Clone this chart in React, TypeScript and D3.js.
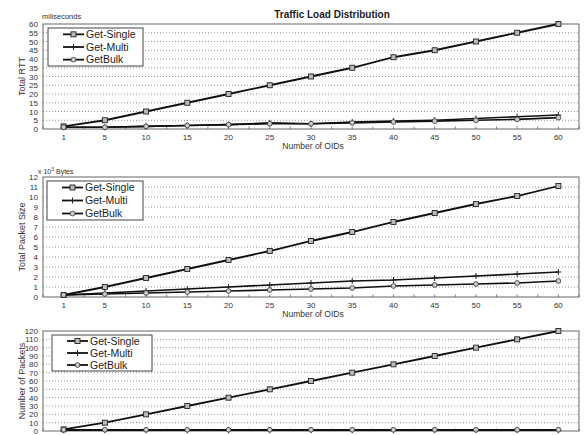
import React from 'react';
import * as d3 from 'd3';

const oids = [1, 5, 10, 15, 20, 25, 30, 35, 40, 45, 50, 55, 60];
const seriesNames = ['Get-Single', 'Get-Multi', 'GetBulk'];

// Total RTT (miliseconds)
const rttSingle = [1.5, 5, 10, 15, 20, 25, 30, 35, 41, 45, 50, 55, 60];
const rttMulti = [1, 1, 1.5, 2, 2.5, 3.5, 3, 4, 4.5, 5, 6, 7, 8];
const rttBulk = [1, 1, 1.5, 2, 2.5, 3, 3, 3.5, 4, 4.5, 5, 5.5, 6.5];

// Total packet size (x 10^3 bytes)
const sizeSingle = [0.2, 1, 1.9, 2.8, 3.7, 4.6, 5.6, 6.5, 7.5, 8.4, 9.3, 10.1, 11.1];
const sizeMulti = [0.2, 0.4, 0.6, 0.8, 1.0, 1.2, 1.4, 1.6, 1.7, 1.9, 2.1, 2.3, 2.5];
const sizeBulk = [0.2, 0.3, 0.4, 0.5, 0.6, 0.7, 0.8, 0.9, 1.1, 1.2, 1.3, 1.4, 1.6];

// Number of packets
const pktSingle = [2, 10, 20, 30, 40, 50, 60, 70, 80, 90, 100, 110, 120];
const pktMulti = [1, 1, 1, 1, 1, 1, 1, 1, 1, 1, 1, 1, 1];
const pktBulk = [1.5, 1.5, 1.5, 1.5, 1.5, 1.5, 1.5, 1.5, 1.5, 1.5, 1.5, 1.5, 1.5];

const width = 585;
const height = 435;
const left = 43;
const right = 579;
const font = 'Liberation Sans, Arial, sans-serif';

const x = d3.scalePoint<number>().domain(oids).range([left, right]).padding(0.5);

const Marker = ({ kind, cx, cy }: { kind: number; cx: number; cy: number }) => {
  if (kind === 0)
    return <rect x={cx - 2.5} y={cy - 2.5} width={5} height={5} fill="#bbb" stroke="#222" strokeWidth={0.9} />;
  if (kind === 1)
    return (
      <path
        d={`M${cx - 3},${cy}H${cx + 3}M${cx},${cy - 3}V${cy + 3}`}
        stroke="#222"
        strokeWidth={1}
      />
    );
  return <circle cx={cx} cy={cy} r={2.4} fill="#ccc" stroke="#333" strokeWidth={0.8} />;
};

type PanelProps = {
  top: number;
  bottom: number;
  yMax: number;
  yStep: number;
  series: number[][];
  yLabel: string;
  unit?: React.ReactNode;
  legend: { x: number; y: number; w: number; h: number };
  xAxis: boolean;
};

const Panel = ({ top, bottom, yMax, yStep, series, yLabel, unit, legend, xAxis }: PanelProps) => {
  const y = d3.scaleLinear().domain([0, yMax]).range([bottom, top]);
  const ticks = d3.range(0, yMax + yStep / 2, yStep);
  const line = d3
    .line<number>()
    .x((_, i) => x(oids[i]) as number)
    .y(d => y(d));
  const step = x.step();
  const minor = d3.range(0, oids.length * 2 + 1).map(i => left + (i * step) / 2);
  const rowH = legend.h / 3;
  return (
    <g>
      {ticks.slice(1, -1).map(t => (
        <line key={t} x1={left} x2={right} y1={y(t)} y2={y(t)} stroke="#777" strokeWidth={0.8} strokeDasharray="1,2" />
      ))}
      <rect x={left} y={top} width={right - left} height={bottom - top} fill="none" stroke="#666" strokeWidth={1} />
      {minor.map((m, i) => (
        <line key={i} x1={m} x2={m} y1={bottom} y2={bottom - 2.5} stroke="#666" strokeWidth={0.8} />
      ))}
      {ticks.map(t => (
        <text key={t} x={38} y={y(t) + 3} textAnchor="end" fontSize={8} fill="#333" fontFamily={font}>
          {t}
        </text>
      ))}
      <text
        transform={`translate(25,${(top + bottom) / 2}) rotate(-90)`}
        textAnchor="middle"
        fontSize={9}
        fill="#333"
        fontFamily={font}
      >
        {yLabel}
      </text>
      {unit}
      {xAxis && (
        <g>
          {oids.map(o => (
            <text key={o} x={x(o)} y={bottom + 10.5} textAnchor="middle" fontSize={8} fill="#333" fontFamily={font}>
              {o}
            </text>
          ))}
          <text x={313} y={bottom + 20} textAnchor="middle" fontSize={8.5} fill="#333" fontFamily={font}>
            Number of OIDs
          </text>
        </g>
      )}
      {series.map((s, k) => (
        <g key={k}>
          <path d={line(s) as string} fill="none" stroke="#111" strokeWidth={k === 0 ? 1.8 : 1.6} />
          {s.map((v, i) => (
            <Marker key={i} kind={k} cx={x(oids[i]) as number} cy={y(v)} />
          ))}
        </g>
      ))}
      <rect x={legend.x} y={legend.y} width={legend.w} height={legend.h} fill="#fff" stroke="#444" strokeWidth={1} />
      {seriesNames.map((n, k) => {
        const ly = legend.y + rowH * (k + 0.5);
        return (
          <g key={n}>
            <line x1={legend.x + 15} x2={legend.x + 36} y1={ly} y2={ly} stroke="#111" strokeWidth={1.8} />
            <Marker kind={k} cx={legend.x + 25.5} cy={ly} />
            <text x={legend.x + 38} y={ly + 3.8} fontSize={10.5} fill="#222" fontFamily={font}>
              {n}
            </text>
          </g>
        );
      })}
    </g>
  );
};

export default function App() {
  return (
    <svg width={width} height={height} style={{ position: 'absolute', left: 0, top: 0, background: '#fff' }}>
      <rect width={width} height={height} fill="#fff" />
      <text x={332} y={18} textAnchor="middle" fontSize={10} fontWeight="bold" fill="#222" fontFamily={font}>
        Traffic Load Distribution
      </text>
      <Panel
        top={24}
        bottom={129}
        yMax={60}
        yStep={5}
        series={[rttSingle, rttMulti, rttBulk]}
        yLabel="Total RTT"
        unit={
          <text x={42} y={19} fontSize={7.5} fill="#333" fontFamily={font}>
            miliseconds
          </text>
        }
        legend={{ x: 48, y: 28, w: 95, h: 38 }}
        xAxis={true}
      />
      <Panel
        top={177}
        bottom={297}
        yMax={12}
        yStep={1}
        series={[sizeSingle, sizeMulti, sizeBulk]}
        yLabel="Total Packet Size"
        unit={
          <text x={38} y={174} fontSize={7} fill="#333" fontFamily={font}>
            x 10<tspan dy={-3} fontSize={5}>3</tspan>
            <tspan dy={3}> Bytes</tspan>
          </text>
        }
        legend={{ x: 47, y: 181, w: 96, h: 39 }}
        xAxis={true}
      />
      <Panel
        top={331}
        bottom={431}
        yMax={120}
        yStep={10}
        series={[pktSingle, pktMulti, pktBulk]}
        yLabel="Number of Packets"
        legend={{ x: 52, y: 335, w: 100, h: 36 }}
        xAxis={false}
      />
    </svg>
  );
}
